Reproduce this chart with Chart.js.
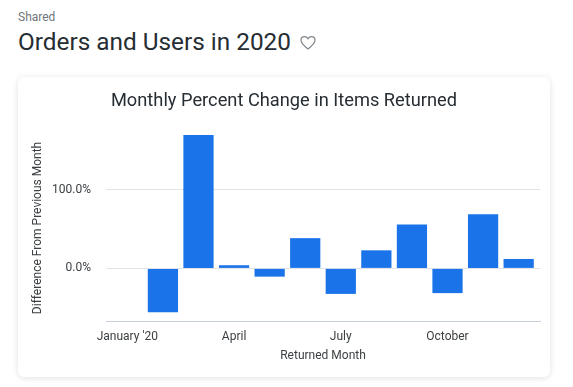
<!DOCTYPE html>
<html lang="en">
<head>
  <meta charset="UTF-8">
  <title>Orders and Users in 2020</title>
  <style>
    html, body { margin: 0; padding: 0; background: #fff; overflow: hidden; }
    body { width: 573px; height: 387px; position: relative; font-family: Roboto, sans-serif; }
    .shared { position: absolute; left: 18px; top: 10px; font-size: 12px; line-height: 14px; color: #70757a; }
    h1 { position: absolute; left: 18px; top: 27px; margin: 0; font-size: 24.35px; line-height: 30px; font-weight: 400; color: #262d33; white-space: nowrap; }
    .heart { position: absolute; left: 300px; top: 35px; }
    .card { position: absolute; left: 18px; top: 77px; width: 532px; height: 300px; background: #fff; border-radius: 6px; box-shadow: 0 1px 6px rgba(60, 64, 67, 0.16); }
    canvas { display: block; }
  </style>
</head>
<body>
  <div class="shared">Shared</div>
  <h1>Orders and Users in 2020</h1>
  <svg class="heart" width="16" height="16" viewBox="0 0 16 16" fill="none" stroke="#80868b" stroke-width="1.2">
    <path d="M8 14 C3 10 1 8 1 5.2 C1 3 2.7 1.6 4.5 1.6 C6 1.6 7.3 2.4 8 3.7 C8.7 2.4 10 1.6 11.5 1.6 C13.3 1.6 15 3 15 5.2 C15 8 13 10 8 14 Z"/>
  </svg>
  <div class="card"><canvas id="chart" width="532" height="300"></canvas></div>

  <script src="https://cdn.jsdelivr.net/npm/chart.js"></script>
  <script>
    const months = ["January '20", 'February', 'March', 'April', 'May', 'June', 'July', 'August', 'September', 'October', 'November', 'December'];
    const percentChange = [null, -56, 170, 4, -10.5, 38.5, -32.5, 23, 56, -31.5, 69, 12];
    const xTickMonths = ["January '20", 'April', 'July', 'October'];
    const yTickValues = [0, 100];

    const textColor = '#3c4043';
    const font = { family: 'Roboto', size: 12 };

    new Chart(document.getElementById('chart'), {
      type: 'bar',
      data: {
        datasets: [{
          data: percentChange.map((v, i) => ({ x: i, y: v })),
          backgroundColor: '#1a73e8',
          barPercentage: 0.85,
          categoryPercentage: 1
        }]
      },
      options: {
        responsive: false,
        animation: false,
        layout: { padding: { left: 10, right: 10, bottom: 10 } },
        plugins: {
          legend: { display: false },
          tooltip: { enabled: false },
          title: {
            display: true,
            text: 'Monthly Percent Change in Items Returned',
            color: '#262d33',
            font: { family: 'Roboto', size: 18.25, weight: 'normal' },
            padding: { top: 13, bottom: 23 }
          }
        },
        scales: {
          x: {
            type: 'linear',
            offset: false,
            min: -0.6,
            max: 11.6,
            afterBuildTicks: (axis) => { axis.ticks = xTickMonths.map(m => ({ value: months.indexOf(m) })); },
            afterFit: (axis) => { axis.height = 46; },
            grid: { display: false, offset: false },
            border: { display: true, color: '#c9d0dc' },
            ticks: {
              color: textColor,
              font,
              autoSkip: false,
              maxRotation: 0,
              padding: 1,
              callback: (v) => months[v]
            },
            title: { display: true, text: 'Returned Month', color: textColor, font, padding: { top: 4 } }
          },
          y: {
            min: -67,
            max: 170,
            afterBuildTicks: (axis) => { axis.ticks = yTickValues.map(v => ({ value: v })); },
            afterFit: (axis) => { axis.width = 78; },
            grid: { color: '#e1e3e8', drawTicks: false },
            border: { display: false },
            ticks: {
              color: textColor,
              font,
              padding: 15,
              callback: (v) => v.toFixed(1) + '%'
            },
            title: { display: true, text: 'Difference From Previous Month', color: textColor, font, padding: { top: 3 } }
          }
        }
      }
    });
  </script>
</body>
</html>
